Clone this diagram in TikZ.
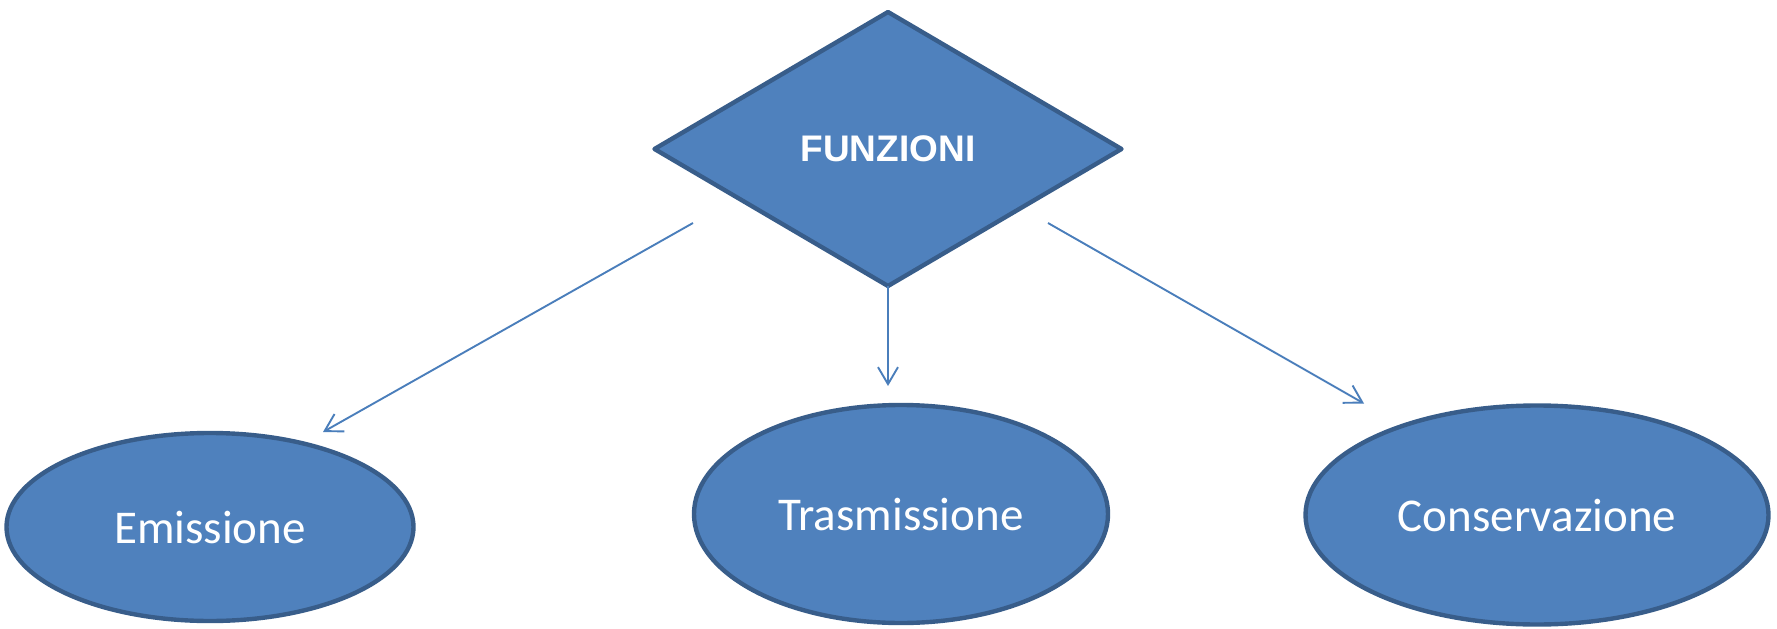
\documentclass[tikz,border=0pt]{standalone}
\usepackage{fontspec}
\setmainfont{Carlito}
\newfontfamily\headfont{Liberation Sans}
\usetikzlibrary{arrows.meta,positioning,calc,shapes.geometric}
\definecolor{cFill}{HTML}{4F81BD}
\definecolor{cEdge}{HTML}{385D8A}
\definecolor{cLink}{HTML}{4A7EBB}
\tikzset{
  fn/.style  ={diamond,draw=cEdge,fill=cFill,line width=2.2pt,line join=round,
               inner sep=0pt,outer sep=0pt,minimum width=233.5pt,minimum height=137pt,
               text=white,font=\headfont\bfseries\fontsize{18.5}{22}\selectfont},
  task/.style={ellipse,draw=cEdge,fill=cFill,line width=2.2pt,inner sep=0pt,
               outer sep=0pt,text=white,font=\fontsize{23.5}{28}\selectfont},
  lnk/.style ={-{Straight Barb[length=8.5pt,width=10pt]},draw=cLink,line width=0.95pt},
}

\begin{document}
\begin{tikzpicture}[x=0.5pt,y=0.5pt]
\useasboundingbox (0,0) rectangle (1777,628);

% ===== main function =====================================================
\node[fn] (fz) at (888,479) {FUNZIONI};

% ===== the three functions ===============================================
\node[task,minimum width=203.5pt,minimum height=94pt]  (em) at (210,101)  {Emissione};
\node[task,minimum width=207pt,minimum height=109pt]  (tr) at (901,114)  {Trasmissione};
\node[task,minimum width=231.5pt,minimum height=109.5pt] (co) at (1537,113) {Conservazione};

% links start a little off the diamond, as in the sketch
\coordinate (fzl) at ($(fz.center)+(-195,-74)$);
\coordinate (fzr) at ($(fz.center)+(160,-74)$);
\coordinate (eml) at ($(em.north)+(113,1)$);
\coordinate (trl) at ($(fz.south)+(0,-100)$);
\coordinate (col) at ($(co.north)+(-173,2)$);

\draw[lnk] (fzl) -- (eml);
\draw[lnk] (fz.south) -- (trl);
\draw[lnk] (fzr) -- (col);
\end{tikzpicture}
\end{document}
